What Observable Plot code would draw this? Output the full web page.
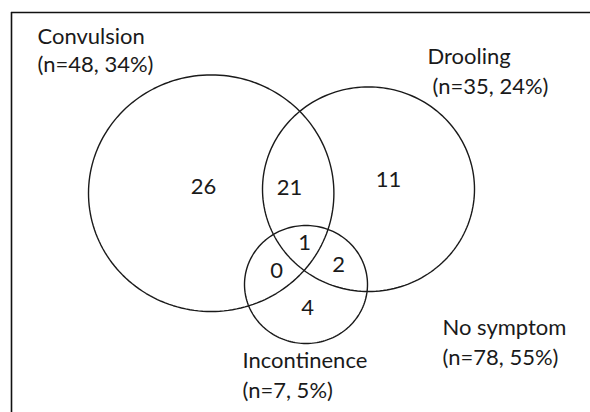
<!DOCTYPE html>
<html>
<head>
<meta charset="utf-8">
<script src="https://cdn.jsdelivr.net/npm/d3@7"></script>
<script src="https://cdn.jsdelivr.net/npm/@observablehq/plot@0.6"></script>
<style>
  html, body { margin: 0; padding: 0; background: #fff; }
  #chart svg { display: block; }
</style>
</head>
<body>
<div id="chart"></div>
<script>
// ---- data ----
const setNames = ["Convulsion", "Drooling", "Incontinence", "No symptom"];
const setN = [48, 35, 7, 78];
const setPct = [34, 24, 5, 55];
const regionNames = ["Convulsion only", "Convulsion & Drooling", "Drooling only", "All three", "Convulsion & Incontinence", "Drooling & Incontinence", "Incontinence only"];
const regionCounts = [26, 21, 11, 1, 0, 2, 4];

// ---- layout (diagram geometry, in chart units) ----
const circleCX = [210.7, 368, 305.5];
const circleCY = [192.7, 188.7, 284];
const circleRX = [122.7, 106, 61.5];
const circleRY = [118.3, 102.3, 59];
const regionX = [203, 289, 388, 304, 276, 338, 307];
const regionY = [186, 187, 179, 242, 270, 264, 307];
const labelX = [37, 427, 242, 442];
const labelX2 = [37, 432, 242, 442];
const labelY = [36, 56, 360, 327];
const labelY2 = [64.5, 86, 390, 357];
const frameTop = 12, frameLeft = 11;

// outline points of each ellipse
const outline = [];
for (let i = 0; i < 3; i++) {
  for (let k = 0; k < 180; k++) {
    const t = (k / 180) * 2 * Math.PI;
    outline.push({set: setNames[i], x: circleCX[i] + circleRX[i] * Math.cos(t), y: circleCY[i] + circleRY[i] * Math.sin(t)});
  }
}
const regions = regionCounts.map((c, i) => ({name: regionNames[i], count: c, x: regionX[i], y: regionY[i]}));
const labels = setNames.map((s, i) => ({name: s, sub: `(n=${setN[i]}, ${setPct[i]}%)`, x: labelX[i], x2: labelX2[i], y: labelY[i], y2: labelY2[i]}));

const W = 590, H = 412;
const font = "Lato, 'Open Sans', sans-serif";
const fs = 22;
const chart = Plot.plot({
  width: W,
  height: H,
  margin: 0,
  x: {domain: [0, W], range: [0, W], axis: null},
  y: {domain: [0, H], range: [0, H], axis: null},
  style: {fontFamily: font, background: "#fff"},
  marks: [
    Plot.ruleY([frameTop], {x1: frameLeft, x2: W, stroke: "#111", strokeWidth: 1.6}),
    Plot.ruleX([frameLeft], {y1: frameTop, y2: H, stroke: "#111", strokeWidth: 1.6}),
    Plot.line(outline, {x: "x", y: "y", z: "set", curve: "linear-closed", stroke: "#1a1a1a", strokeWidth: 1.4}),
    Plot.text(regions, {x: "x", y: "y", text: d => String(d.count), fontSize: fs, fill: "#1a1a1a", textAnchor: "middle"}),
    Plot.text(labels, {x: "x", y: "y", text: "name", fontSize: fs, fill: "#1a1a1a", textAnchor: "start"}),
    Plot.text(labels, {x: "x2", y: "y2", text: "sub", fontSize: fs, fill: "#1a1a1a", textAnchor: "start"})
  ]
});
document.getElementById("chart").appendChild(chart);
</script>
</body>
</html>
